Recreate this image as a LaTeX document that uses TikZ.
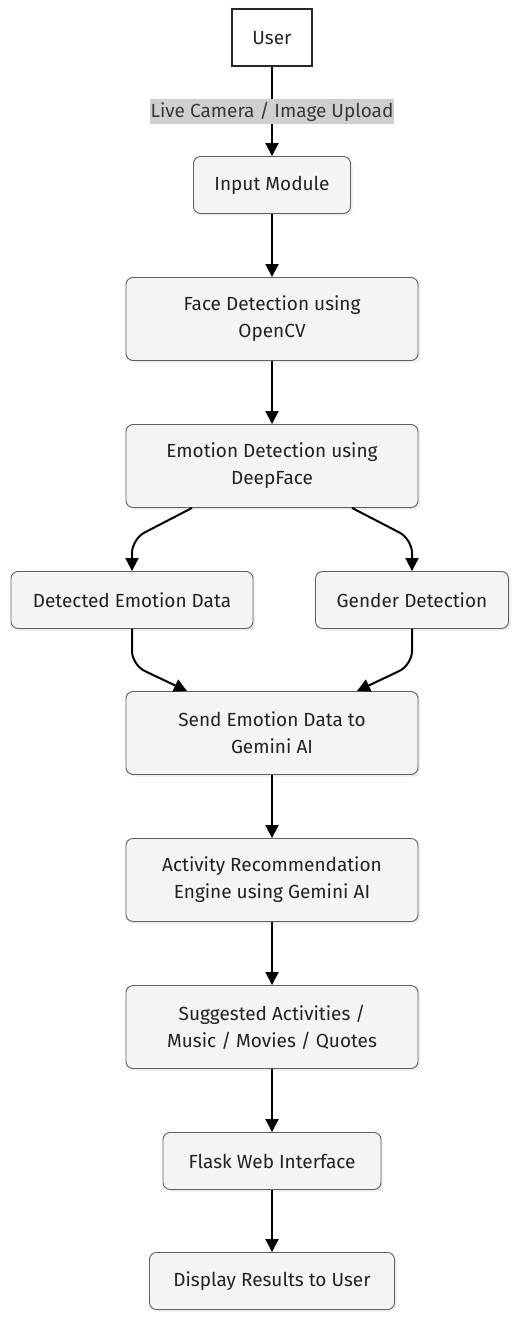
\documentclass[tikz,border=0pt]{standalone}
\usepackage{fontspec}
\setmainfont{Fira Sans}
\usetikzlibrary{arrows.meta,shadows}
\definecolor{boxfill}{HTML}{F4F4F4}
\definecolor{boxline}{HTML}{606060}
\definecolor{userline}{HTML}{25253A}
\definecolor{lblfill}{HTML}{CFCFCF}
\definecolor{txtdark}{HTML}{222222}

\tikzset{
  stage/.style={draw=boxline,fill=boxfill,rounded corners=7pt,line width=0.9pt,
    align=center,text=txtdark,minimum height=57pt,inner sep=0pt,
    drop shadow={shadow xshift=2pt,shadow yshift=-2pt,fill=black!12,opacity=0.6}},
  tallstage/.style={stage,minimum width=292pt,minimum height=83pt},
  actor/.style={draw=userline,fill=white,line width=2pt,text=txtdark,
    minimum width=80pt,minimum height=57pt,inner sep=0pt},
  flow/.style={line width=2pt,-{Triangle[length=13pt,width=13pt]}},
}

\begin{document}
\begin{tikzpicture}[x=1pt,y=-1pt,font=\fontsize{19}{27}\selectfont]
\useasboundingbox (0,0) rectangle (520,1321);
% boxes
\node[actor] (user) at (272,38) {User};
\node[stage,minimum width=157pt] (input) at (272,185) {Input Module};
\node[tallstage] (face) at (272,319) {Face Detection using\\OpenCV};
\node[tallstage] (emo) at (272,466) {Emotion Detection using\\DeepFace};
\node[stage,minimum width=242pt] (det) at (132,600) {Detected Emotion Data};
\node[stage,minimum width=193pt] (gender) at (412,600) {Gender Detection};
\node[tallstage] (send) at (272,733) {Send Emotion Data to\\Gemini AI};
\node[tallstage] (reco) at (272,880) {Activity Recommendation\\Engine using Gemini AI};
\node[tallstage] (sugg) at (272,1027) {Suggested Activities /\\Music / Movies / Quotes};
\node[stage,minimum width=218pt] (flask) at (272,1161) {Flask Web Interface};
\node[stage,minimum width=245pt] (show) at (272,1281) {Display Results to User};
% connectors
\draw[flow] (user) -- node[fill=lblfill,text=txtdark!90,inner xsep=1pt,inner ysep=3pt,
  font=\fontsize{19}{20}\selectfont] {Live Camera / Image Upload} (input);
\foreach \a/\b in {input/face,face/emo,send/reco,reco/sugg,sugg/flask,flask/show}
  \draw[flow] (\a) -- (\b);
\draw[flow,rounded corners=14pt] ([xshift=-80pt]emo.south) -- ([yshift=32pt]det.north) -- (det.north);
\draw[flow,rounded corners=14pt] ([xshift=80pt]emo.south) -- ([yshift=32pt]gender.north) -- (gender.north);
\draw[flow,rounded corners=14pt] (det.south) -- ([yshift=-36pt]det.south) -- ([xshift=-85pt]send.north);
\draw[flow,rounded corners=14pt] (gender.south) -- ([yshift=-36pt]gender.south) -- ([xshift=85pt]send.north);
\end{tikzpicture}
\end{document}
